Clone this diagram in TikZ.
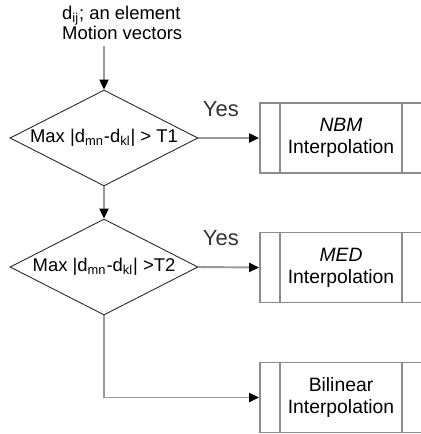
\documentclass[tikz,border=0pt]{standalone}
\usepackage{fontspec}
\setmainfont{Liberation Sans}
\usetikzlibrary{arrows.meta,shapes.geometric}
\tikzset{
	test/.style={diamond,draw=black!85,line width=0.5pt,aspect=2,inner sep=0pt,
		minimum width=3.76cm,minimum height=1.92cm,font=\fontsize{10.5}{12}\selectfont},
	interp/.style={rectangle,draw=black!45,line width=1pt,minimum width=3.24cm,
		minimum height=1.4cm,align=center,font=\fontsize{11}{12.5}\selectfont},
	flow/.style={draw=black!40,line width=1.1pt,-{Triangle[length=0.2cm,width=0.18cm,black]}},
	yes/.style={pos=0.37,above=8.5pt,font=\fontsize{12.5}{14}\selectfont,text=black!80},
}
\begin{document}
\begin{tikzpicture}[x=0.02cm,y=-0.02cm]
		\useasboundingbox (0,0) rectangle (421,434);
		\clip (0,0) rectangle (421,434);
		\node [anchor=west,align=left,font=\fontsize{10.5}{11.4}\selectfont] (in) at (56,23)
			{d\textsubscript{ij}; an element\\Motion vectors};
		\node [test] (t1) at (104,138) {Max |d\textsubscript{mn}-d\textsubscript{kl}| > T1};
		\node [test] (t2) at (104,267) {Max |d\textsubscript{mn}-d\textsubscript{kl}| >T2};
		\node [interp] (nbm) at (341,138) {\textit{NBM}\\Interpolation};
		\node [interp] (med) at (341,267.5) {\textit{MED}\\Interpolation};
		\node [interp] (bil) at (341,397.5) {Bilinear\\Interpolation};
		\coordinate (c) at (t2.south |- bil.west);
		%\draw [help lines] (0,0) grid (421,434);
		\foreach \b in {nbm,med,bil} {
			\draw [draw=black!45,line width=1pt] ([xshift=0.42cm]\b.north west) -- ([xshift=0.42cm]\b.south west);
			\draw [draw=black!45,line width=1pt] ([xshift=-0.42cm]\b.north east) -- ([xshift=-0.42cm]\b.south east);
		}
		\draw [flow] (t1.north |- in.south) -- (t1.north);
		\draw [flow] (t1.east) -- (nbm.west) node [yes] (y1) {Yes};
		\draw [flow] (t1.south) -- (t2.north);
		\draw [flow] (t2.east) -- (med.west) node [yes] (y2) {Yes};
		\draw [flow] (t2.south) -- (c) -- (bil.west);
	\end{tikzpicture}
\end{document}
